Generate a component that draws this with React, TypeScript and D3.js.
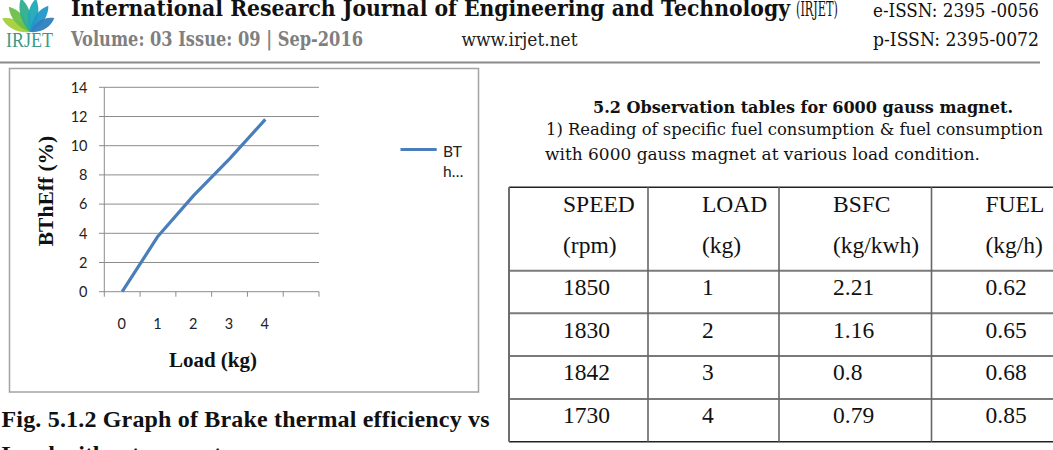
import { useMemo } from 'react';
import * as d3 from 'd3';

// Brake thermal efficiency vs load, without magnet
const loadCategories = ['0', '1', '2', '3', '4', ''];
const bthEff = [0, 3.8, 6.6, 9.1, 11.8];
const seriesName = 'BThEff';

// Observation table, 6000 gauss magnet
const tableHeaders = [
  ['SPEED', '(rpm)'],
  ['LOAD', '(kg)'],
  ['BSFC', '(kg/kwh)'],
  ['FUEL', '(kg/h)'],
];
const speedRpm = ['1850', '1830', '1842', '1730'];
const loadKg = ['1', '2', '3', '4'];
const bsfc = ['2.21', '1.16', '0.8', '0.79'];
const fuelKgH = ['0.62', '0.65', '0.68', '0.85'];

const W = 1053;
const H = 450;
const serif = '"DejaVu Serif", serif';
const times = '"Liberation Serif", "Times New Roman", serif';
const sans = 'Lato, "Liberation Sans", sans-serif';
const lineBlue = '#4a7ebb';
const gridGray = '#8c8c8c';

function Logo() {
  // fan of leaves above the IRJET wordmark
  const leaves = [
    { a: -64, len: 31, c: '#a6cf3a' },
    { a: -40, len: 33, c: '#6cbf4a' },
    { a: -15, len: 35, c: '#2fae8e' },
    { a: 10, len: 34, c: '#20a9b8' },
    { a: 35, len: 32, c: '#2296c8' },
    { a: 60, len: 28, c: '#2f7fc0' },
  ];
  const bx = 30;
  const by = 32;
  return (
    <g>
      {leaves.map((l, i) => (
        <path
          key={i}
          transform={`translate(${bx},${by}) rotate(${l.a})`}
          d={`M0,0 C${-7},${-l.len * 0.35} ${-6},${-l.len * 0.75} 0,${-l.len} C${6},${-l.len * 0.75} ${7},${-l.len * 0.35} 0,0 Z`}
          fill={l.c}
          opacity={0.95}
        />
      ))}
      <text x={6} y={46.5} fontFamily={times} fontSize={21} fill="#3a9a86" textLength={47} lengthAdjust="spacingAndGlyphs">
        IRJET
      </text>
    </g>
  );
}

function Header() {
  return (
    <g>
      <Logo />
      <text x={71} y={15.5} fontFamily={serif} fontSize={23} fontWeight="bold" fill="#111" textLength={719} lengthAdjust="spacingAndGlyphs">
        International Research Journal of Engineering and Technology
      </text>
      <text x={796} y={15.5} fontFamily={serif} fontSize={21} fill="#111" textLength={42} lengthAdjust="spacingAndGlyphs">
        (IRJET)
      </text>
      <text x={873} y={16.5} fontFamily={serif} fontSize={18} fill="#111" textLength={166} lengthAdjust="spacingAndGlyphs">
        e-ISSN: 2395 -0056
      </text>
      <text x={71} y={45.5} fontFamily={serif} fontSize={20} fontWeight="bold" fill="#7f7f7f" textLength={292} lengthAdjust="spacingAndGlyphs">
        Volume: 03 Issue: 09 | Sep-2016
      </text>
      <text x={461.5} y={45.5} fontFamily={serif} fontSize={18} fill="#222" textLength={116} lengthAdjust="spacingAndGlyphs">
        www.irjet.net
      </text>
      <text x={873} y={45.5} fontFamily={serif} fontSize={18} fill="#111" textLength={166} lengthAdjust="spacingAndGlyphs">
        p-ISSN: 2395-0072
      </text>
      <line x1={0} x2={1040} y1={62.5} y2={62.5} stroke="#8a8a8a" strokeWidth={2} />
    </g>
  );
}

function EffChart() {
  const x = useMemo(
    () => d3.scaleBand<string>().domain(loadCategories).range([104.3, 319]).padding(0),
    []
  );
  const y = useMemo(() => d3.scaleLinear().domain([0, 14]).range([291.7, 87.3]), []);
  const yTicks = y.ticks(7);
  const pts: [number, number][] = bthEff.map((v, i) => [x(loadCategories[i])! + x.bandwidth() / 2, y(v)]);
  const path = d3.line()(pts) ?? '';
  const tickXs = [...loadCategories.map((c) => x(c)!), 319];

  return (
    <g>
      <rect x={9.5} y={68.5} width={469} height={323.5} fill="#fff" stroke="#a3a3a3" strokeWidth={1.5} />

      {/* horizontal gridlines and y ticks */}
      {yTicks.map((t) => (
        <g key={t}>
          <line x1={99} x2={319} y1={y(t)} y2={y(t)} stroke={gridGray} strokeWidth={1} />
          <text x={87.5} y={y(t)} dy="0.36em" textAnchor="end" fontFamily={sans} fontSize={14.5} fill="#222">
            {t}
          </text>
        </g>
      ))}
      <line x1={104.3} x2={104.3} y1={87.3} y2={291.7} stroke={gridGray} strokeWidth={1} />
      {tickXs.map((tx, i) => (
        <line key={i} x1={tx} x2={tx} y1={291.7} y2={296.7} stroke={gridGray} strokeWidth={1} />
      ))}
      {loadCategories.map((c) => (
        <text key={c} x={x(c)! + x.bandwidth() / 2 - 0.5} y={328.5} textAnchor="middle" fontFamily={sans} fontSize={14.5} fill="#222">
          {c}
        </text>
      ))}

      <path d={path} fill="none" stroke={lineBlue} strokeWidth={3.2} strokeLinejoin="round" />

      <text x={213} y={366.5} textAnchor="middle" fontFamily={times} fontWeight="bold" fontSize={21} fill="#111">
        Load (kg)
      </text>
      <text
        transform="translate(52.5,191) rotate(-90)"
        textAnchor="middle"
        fontFamily={times}
        fontWeight="bold"
        fontSize={21.5}
        fill="#111"
      >
        BThEff (%)
      </text>

      {/* legend, name clipped by the narrow legend box */}
      <line x1={400.5} x2={436.7} y1={149.5} y2={149.5} stroke={lineBlue} strokeWidth={3} />
      <text x={443} y={156.5} fontFamily={sans} fontSize={15.5} fill="#222">
        {seriesName.slice(0, 2)}
      </text>
      <text x={443} y={177.3} fontFamily={sans} fontSize={15.5} fill="#222">
        {seriesName.slice(2, 3) + '…'}
      </text>
    </g>
  );
}

function Caption() {
  return (
    <g>
      <text x={1.5} y={427.3} fontFamily={times} fontWeight="bold" fontSize={24} fill="#111" textLength={488} lengthAdjust="spacing">
        Fig. 5.1.2 Graph of Brake thermal efficiency vs
      </text>
      <text x={1.5} y={462} fontFamily={times} fontWeight="bold" fontSize={24} fill="#111">
        Load without magnet
      </text>
    </g>
  );
}

function ObservationTable() {
  const colX = [509, 648, 779, 931.5];
  const rowY = [187.3, 270.7, 313.3, 356, 399, 441.7];
  const cols = [speedRpm, loadKg, bsfc, fuelKgH];
  const pad = 54;
  return (
    <g>
      <text x={593} y={113.3} fontFamily={serif} fontWeight="bold" fontSize={16.5} fill="#111" textLength={420} lengthAdjust="spacingAndGlyphs">
        5.2 Observation tables for 6000 gauss magnet.
      </text>
      <text x={546} y={135} fontFamily={serif} fontSize={17.5} fill="#111" textLength={497} lengthAdjust="spacingAndGlyphs">
        1)  Reading of specific fuel consumption &amp; fuel consumption
      </text>
      <text x={545} y={160} fontFamily={serif} fontSize={17.5} fill="#111" textLength={435} lengthAdjust="spacingAndGlyphs">
        with 6000 gauss magnet at   various load condition.
      </text>

      {/* grid */}
      {rowY.map((ry, i) => (
        <line
          key={`r${i}`}
          x1={509}
          x2={W}
          y1={ry}
          y2={ry}
          stroke={i === 0 || i === rowY.length - 1 ? '#222' : '#7a7a7a'}
          strokeWidth={i === 0 || i === rowY.length - 1 ? 1.6 : 2}
        />
      ))}
      {colX.map((cx, i) => (
        <line key={`c${i}`} x1={cx} x2={cx} y1={rowY[0]} y2={rowY[rowY.length - 1]} stroke={i === 0 ? '#6e6e6e' : '#666'} strokeWidth={i === 0 ? 2 : 1.6} />
      ))}

      {tableHeaders.map((hd, ci) => (
        <g key={`h${ci}`}>
          <text x={colX[ci] + pad} y={211.7} fontFamily={times} fontSize={23.5} fill="#111">
            {hd[0]}
          </text>
          <text x={colX[ci] + pad} y={252.7} fontFamily={times} fontSize={23.5} fill="#111">
            {hd[1]}
          </text>
        </g>
      ))}
      {cols.map((col, ci) =>
        col.map((v, ri) => (
          <text key={`v${ci}-${ri}`} x={colX[ci] + pad} y={295 + ri * 42.6} fontFamily={times} fontSize={23.5} fill="#111">
            {v}
          </text>
        ))
      )}
    </g>
  );
}

export default function App() {
  return (
    <div style={{ position: 'absolute', left: 0, top: 0, width: W, height: H, overflow: 'hidden', background: '#fff' }}>
      <svg width={W} height={H} viewBox={`0 0 ${W} ${H}`} style={{ display: 'block' }}>
        <rect width={W} height={H} fill="#fff" />
        <Header />
        <EffChart />
        <Caption />
        <ObservationTable />
      </svg>
    </div>
  );
}
